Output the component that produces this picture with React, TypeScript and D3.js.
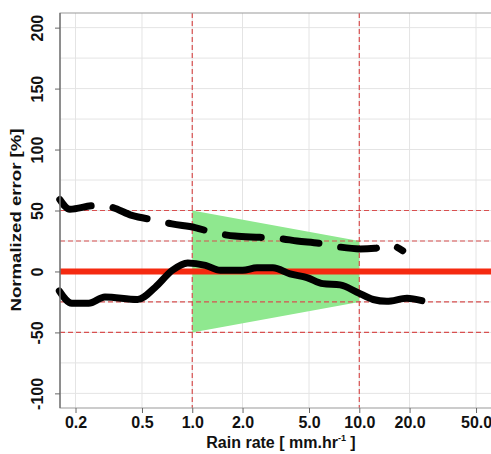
import { useEffect, useRef } from "react";
import * as d3 from "d3";

// rain rate [mm/hr] and normalized error [%]
const solidRate = [0.16, 0.19, 0.24, 0.3, 0.47, 0.6, 0.76, 0.94, 1.2, 1.47, 2.0, 2.44, 3.04, 3.85, 4.86, 6.06, 7.67, 9.69, 12.1, 14.6, 19.3, 23.7];
const solidErr = [-16, -26, -26, -21, -23, -13, 1, 7, 5, 1, 1, 3, 3, -2, -5, -10, -11, -17, -23, -24.5, -22, -24];

const dashRate = [0.161, 0.185, 0.261, 0.321, 0.435, 0.6, 0.756, 1.04, 1.33, 1.8, 2.54, 3.35, 4.24, 5.82, 7.67, 10.1, 12.4, 14.9, 18.2];
const dashErr = [59, 51, 54, 53, 46, 42, 39, 36, 32, 29, 28, 27, 25, 23, 20, 18.5, 19, 22, 17];

// acceptance cone between 1 and 10 mm/hr
const coneRate = [1, 10, 10, 1];
const coneErr = [50, 25, -25, -50];

const xTicks = [0.2, 0.5, 1, 2, 5, 10, 20, 50];
const yTicks = [-100, -50, 0, 50, 100, 150, 200];
const yGrid = [-100, -75, -50, -25, 0, 25, 50, 75, 100, 125, 150, 175, 200];
const refLevels = [50, 25, -25, -50];
const refRates = [1, 10];

const W = 491, H = 454;
const margin = { top: 13, right: -1, bottom: 46, left: 60 };
const font = "'Liberation Sans', Arial, sans-serif";

const App = () => {
  const ref = useRef<SVGSVGElement>(null);

  useEffect(() => {
    const svg = d3.select(ref.current);
    svg.selectAll("*").remove();

    const x = d3.scaleLog().domain([0.1615, 62.3]).range([margin.left, W - margin.right]);
    const y = d3.scaleLinear().domain([-112, 212]).range([H - margin.bottom, margin.top]);
    const [x0, x1] = x.range();
    const [y1, y0] = y.range();

    const g = svg.append("g");

    // grid
    g.selectAll(".gy").data(yGrid).join("line")
      .attr("x1", x0).attr("x2", x1)
      .attr("y1", d => y(d)).attr("y2", d => y(d))
      .attr("stroke", "#e4e4e4").attr("stroke-width", 1);
    g.selectAll(".gx").data(xTicks).join("line")
      .attr("x1", d => x(d)).attr("x2", d => x(d))
      .attr("y1", y0).attr("y2", y1)
      .attr("stroke", "#e4e4e4").attr("stroke-width", 1);

    // green cone
    g.append("path")
      .datum(coneRate.map((r, i) => [r, coneErr[i]] as [number, number]))
      .attr("fill", "#8fe88f")
      .attr("d", d3.line<[number, number]>().x(d => x(d[0])).y(d => y(d[1])).curve(d3.curveLinearClosed));

    // red dashed references
    g.selectAll(".rh").data(refLevels).join("line")
      .attr("x1", x0).attr("x2", x1)
      .attr("y1", d => y(d)).attr("y2", d => y(d))
      .attr("stroke", "#d85050").attr("stroke-width", 1.2).attr("stroke-dasharray", "5 3");
    g.selectAll(".rv").data(refRates).join("line")
      .attr("x1", d => x(d)).attr("x2", d => x(d))
      .attr("y1", y0).attr("y2", y1)
      .attr("stroke", "#d85050").attr("stroke-width", 1.2).attr("stroke-dasharray", "5 3");

    // zero line
    g.append("line")
      .attr("x1", x0).attr("x2", x1)
      .attr("y1", y(0)).attr("y2", y(0))
      .attr("stroke", "#f52a10").attr("stroke-width", 6);

    const line = d3.line<[number, number]>()
      .x(d => x(d[0])).y(d => y(d[1]))
      .curve(d3.curveMonotoneX);

    g.append("path")
      .datum(dashRate.map((r, i) => [r, dashErr[i]] as [number, number]))
      .attr("fill", "none").attr("stroke", "#000").attr("stroke-width", 7)
      .attr("stroke-linecap", "round").attr("stroke-dasharray", "36 22")
      .attr("d", line);

    g.append("path")
      .datum(solidRate.map((r, i) => [r, solidErr[i]] as [number, number]))
      .attr("fill", "none").attr("stroke", "#000").attr("stroke-width", 7)
      .attr("stroke-linejoin", "round").attr("stroke-linecap", "round")
      .attr("d", line);

    // box
    g.append("rect")
      .attr("x", x0).attr("y", y0)
      .attr("width", x1 - x0).attr("height", y1 - y0)
      .attr("fill", "none").attr("stroke", "#999").attr("stroke-width", 1);
    g.append("line")
      .attr("x1", x0).attr("x2", x0).attr("y1", y0).attr("y2", y1)
      .attr("stroke", "#666").attr("stroke-width", 1.2);

    // axes
    const xAxis = svg.append("g")
      .attr("transform", `translate(0,${y1})`)
      .call(d3.axisBottom(x).tickValues(xTicks).tickFormat(d3.format(".1f")).tickSize(5).tickPadding(4));
    xAxis.select(".domain").remove();
    xAxis.selectAll(".tick line").attr("stroke", "#666");
    xAxis.selectAll("text")
      .attr("font-family", font).attr("font-size", 16).attr("font-weight", "bold").attr("fill", "#111");

    const yAxis = svg.append("g")
      .attr("transform", `translate(${x0},0)`)
      .call(d3.axisLeft(y).tickValues(yTicks).tickFormat(d => String(d)).tickSize(5));
    yAxis.select(".domain").remove();
    yAxis.selectAll(".tick line").attr("stroke", "#666");
    yAxis.selectAll("text")
      .attr("x", 0).attr("dy", 0).attr("y", -17)
      .attr("transform", "rotate(-90)")
      .attr("text-anchor", "middle")
      .attr("font-family", font).attr("font-size", 16).attr("font-weight", "bold").attr("fill", "#111");

    // titles
    const xt = svg.append("text")
      .attr("x", 281).attr("y", 448)
      .attr("text-anchor", "middle")
      .attr("font-family", font).attr("font-size", 16).attr("font-weight", "bold").attr("fill", "#111");
    xt.append("tspan").text("Rain rate [ mm.hr");
    xt.append("tspan").attr("dy", -7).attr("font-size", 9).text("-1");
    xt.append("tspan").attr("dy", 7).text(" ]");

    svg.append("text")
      .attr("transform", `translate(21,220) rotate(-90)`)
      .attr("text-anchor", "middle")
      .attr("font-family", font).attr("font-size", 15).attr("font-weight", "bold").attr("fill", "#111")
      .attr("textLength", 183).attr("lengthAdjust", "spacingAndGlyphs")
      .text("Normalized error [%]");
  }, []);

  return (
    <svg ref={ref} width={W} height={H}
      style={{ position: "absolute", left: 0, top: 0, background: "#fff" }} />
  );
};

export default App;
